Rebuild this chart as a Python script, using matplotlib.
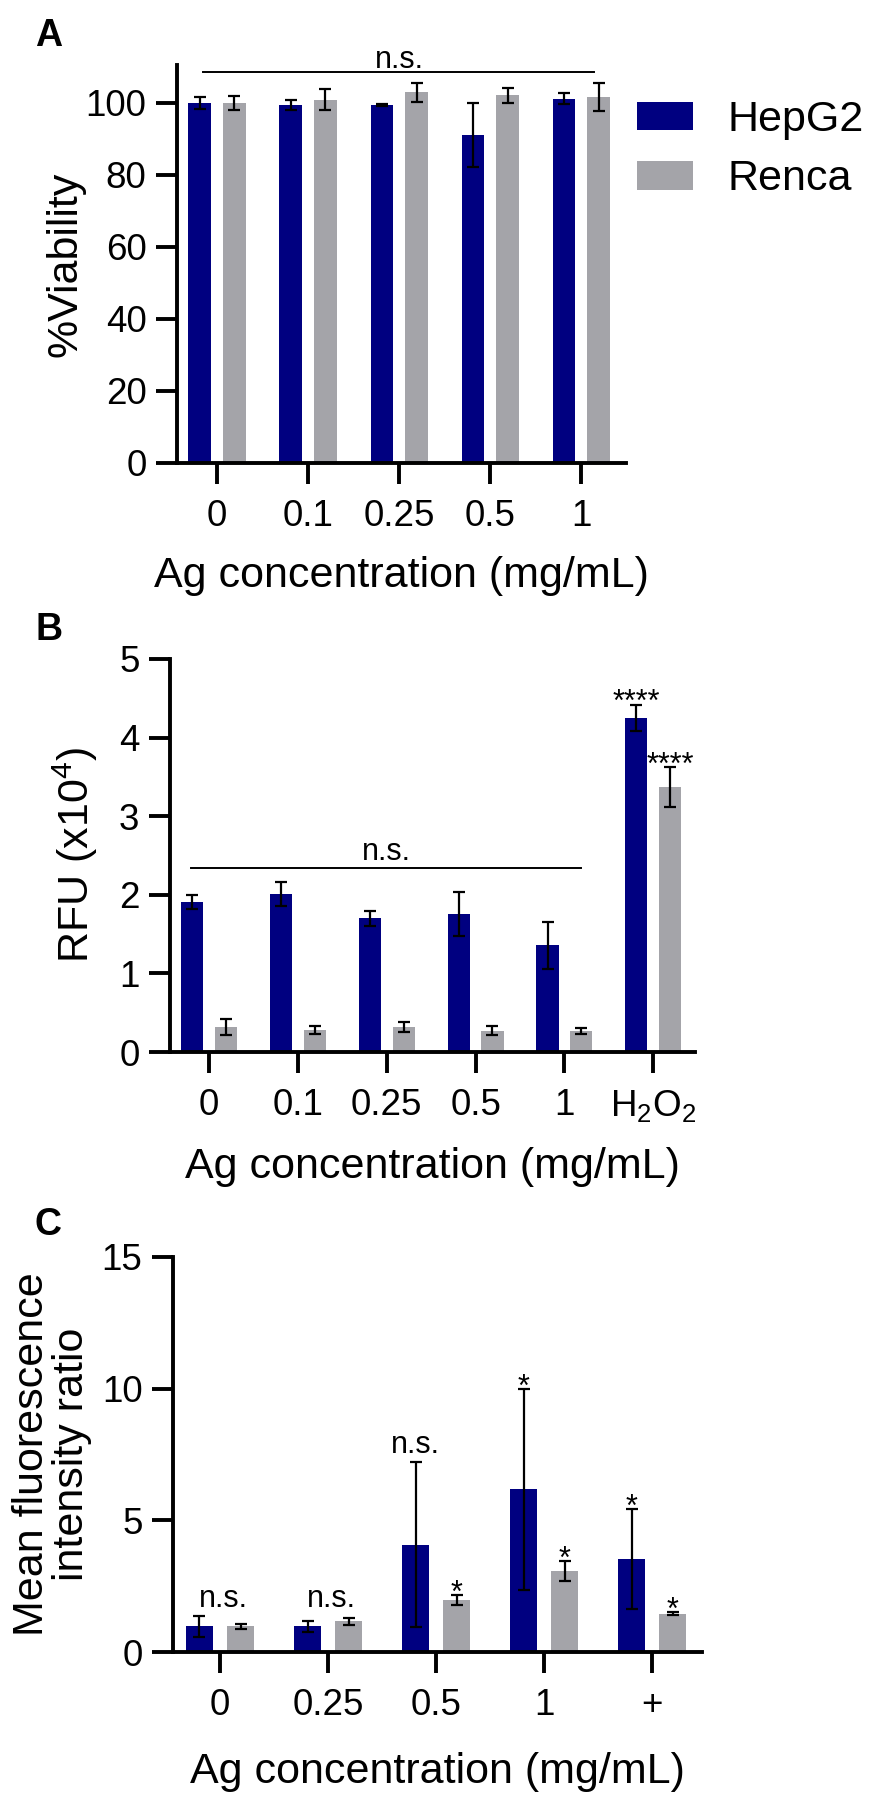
import matplotlib
matplotlib.use('Agg')
import matplotlib.pyplot as plt
import numpy as np

plt.rcParams['font.family'] = ['Liberation Sans', 'DejaVu Sans']
plt.rcParams['mathtext.default'] = 'regular'

# A: cell viability
conc_a = ['0', '0.1', '0.25', '0.5', '1']
hepg2_a = [100.0, 99.4, 99.3, 91.0, 101.1]
hepg2_a_err = [1.75, 1.45, 0.3, 8.9, 1.5]
renca_a = [100.0, 100.8, 102.9, 102.1, 101.6]
renca_a_err = [2.0, 2.9, 2.6, 2.1, 4.0]

# B: ROS, RFU (x10^4)
conc_b = ['0', '0.1', '0.25', '0.5', '1', 'H$_2$O$_2$']
hepg2_b = [1.91, 2.01, 1.70, 1.75, 1.36, 4.25]
hepg2_b_err = [0.085, 0.15, 0.10, 0.28, 0.30, 0.17]
renca_b = [0.32, 0.28, 0.32, 0.27, 0.27, 3.37]
renca_b_err = [0.10, 0.05, 0.065, 0.06, 0.035, 0.25]
sig_b_hepg2 = ['', '', '', '', '', '****']
sig_b_renca = ['', '', '', '', '', '****']

# C: mean fluorescence intensity ratio
conc_c = ['0', '0.25', '0.5', '1', '+']
hepg2_c = [0.97, 0.97, 4.08, 6.18, 3.54]
hepg2_c_err = [0.39, 0.20, 3.12, 3.81, 1.90]
renca_c = [0.97, 1.16, 1.97, 3.09, 1.45]
renca_c_err = [0.11, 0.12, 0.19, 0.38, 0.06]
sig_c_group = ['n.s.', 'n.s.', '', '', '']
sig_c_hepg2 = ['', '', 'n.s.', '*', '*']
sig_c_renca = ['', '', '*', '*', '*']

navy = '#000080'
grey = '#a4a4a9'
W, H = 869, 1800
LABEL_FS = 31

fig = plt.figure(figsize=(W / 100, H / 100), dpi=100)


def make_axes(left, right, top, bottom):
    return fig.add_axes([left / W, 1 - bottom / H, (right - left) / W, (bottom - top) / H])


def style(ax):
    for s in ['top', 'right']:
        ax.spines[s].set_visible(False)
    for s in ['left', 'bottom']:
        ax.spines[s].set_linewidth(2.8)
    ax.tick_params(axis='both', length=15, width=2.8, labelsize=26.5)
    ax.tick_params(axis='y', pad=7)
    ax.tick_params(axis='x', pad=11)


def bars(ax, labels, h, he, r, re):
    x = np.arange(len(labels))
    ekw = dict(elinewidth=1.6, capthick=1.6, ecolor='black', capsize=4.3, zorder=3)
    b1 = ax.bar(x - 0.19, h, 0.25, color=navy, yerr=he, error_kw=ekw, label='HepG2')
    b2 = ax.bar(x + 0.19, r, 0.25, color=grey, yerr=re, error_kw=ekw, label='Renca')
    ax.set_xticks(x)
    ax.set_xticklabels(labels)
    return x, b1, b2


def stars(ax, xs, tops, marks, dy, size):
    for xx, t, m in zip(xs, tops, marks):
        if m:
            ax.annotate(m, xy=(xx, t), xytext=(0, dy), textcoords='offset points',
                        ha='center', va='baseline', fontsize=size)


# ---- A ----
axA = make_axes(177, 626, 65, 463)
style(axA)
x, b1, b2 = bars(axA, conc_a, hepg2_a, hepg2_a_err, renca_a, renca_a_err)
axA.set_xlim(-0.44, 4.49)
axA.set_ylim(0, 110.5)
axA.set_yticks([0, 20, 40, 60, 80, 100])
axA.plot([-0.16, 4.14], [108.6, 108.6], color='black', lw=1.4, clip_on=False)
axA.text(2.0, 109.7, 'n.s.', ha='center', va='baseline', fontsize=22)
axA.set_ylabel('%Viability', fontsize=LABEL_FS, va='center')
axA.yaxis.set_label_coords(-0.249, 0.5)
axA.set_xlabel('Ag concentration (mg/mL)', fontsize=LABEL_FS, va='baseline')
axA.xaxis.set_label_coords(0.5, -0.312)
axA.legend(handles=[b1, b2], loc='upper left', bbox_to_anchor=(637 / W, 1 - 100 / H),
           bbox_transform=fig.transFigure, frameon=False, fontsize=31,
           handlelength=1.3, handleheight=0.65, handletextpad=0.8,
           labelspacing=0.45, borderpad=0, borderaxespad=0)

# ---- B ----
axB = make_axes(170, 695, 659, 1052)
style(axB)
x, b1, b2 = bars(axB, conc_b, hepg2_b, hepg2_b_err, renca_b, renca_b_err)
axB.set_xlim(-0.44, 5.47)
axB.set_ylim(0, 5)
axB.set_yticks([0, 1, 2, 3, 4, 5])
axB.plot([-0.2, 4.19], [2.34, 2.34], color='black', lw=1.4)
axB.text(2.0, 2.44, 'n.s.', ha='center', va='baseline', fontsize=22)
stars(axB, x - 0.19, np.add(hepg2_b, hepg2_b_err), sig_b_hepg2, -4.5, 22)
stars(axB, x + 0.19, np.add(renca_b, renca_b_err), sig_b_renca, -4.5, 22)
axB.set_ylabel('RFU (x10$^4$)', fontsize=LABEL_FS, va='center')
axB.yaxis.set_label_coords(-0.181, 0.5)
axB.set_xlabel('Ag concentration (mg/mL)', fontsize=LABEL_FS, va='baseline')
axB.xaxis.set_label_coords(0.5, -0.321)

# ---- C ----
axC = make_axes(173, 702, 1257, 1652)
style(axC)
x, b1, b2 = bars(axC, conc_c, hepg2_c, hepg2_c_err, renca_c, renca_c_err)
axC.set_xlim(-0.435, 4.46)
axC.set_ylim(0, 15)
axC.set_yticks([0, 5, 10, 15])
for xx, m in zip(x, sig_c_group):
    if m:
        axC.text(xx + 0.03, 1.70, m, ha='center', va='baseline', fontsize=22)
hep_marks = [m if m == '*' else '' for m in sig_c_hepg2]
ns_marks = [m if m == 'n.s.' else '' for m in sig_c_hepg2]
stars(axC, x - 0.19, np.add(hepg2_c, hepg2_c_err), hep_marks, -5, 22)
stars(axC, x - 0.19, np.add(hepg2_c, hepg2_c_err), ns_marks, 6.5, 22)
stars(axC, x + 0.19, np.add(renca_c, renca_c_err), sig_c_renca, -5, 22)
axC.set_ylabel('Mean fluorescence\nintensity ratio', fontsize=LABEL_FS, va='center',
               linespacing=1.02)
axC.yaxis.set_label_coords(-0.229, 0.5)
axC.set_xlabel('Ag concentration (mg/mL)', fontsize=LABEL_FS, va='baseline')
axC.xaxis.set_label_coords(0.5, -0.332)

# panel letters
for letter, base in [('A', 46), ('B', 640), ('C', 1235)]:
    fig.text(35 / W, 1 - base / H, letter, fontsize=27, fontweight='bold',
             ha='left', va='baseline')

fig.savefig('out.png', dpi=100)
